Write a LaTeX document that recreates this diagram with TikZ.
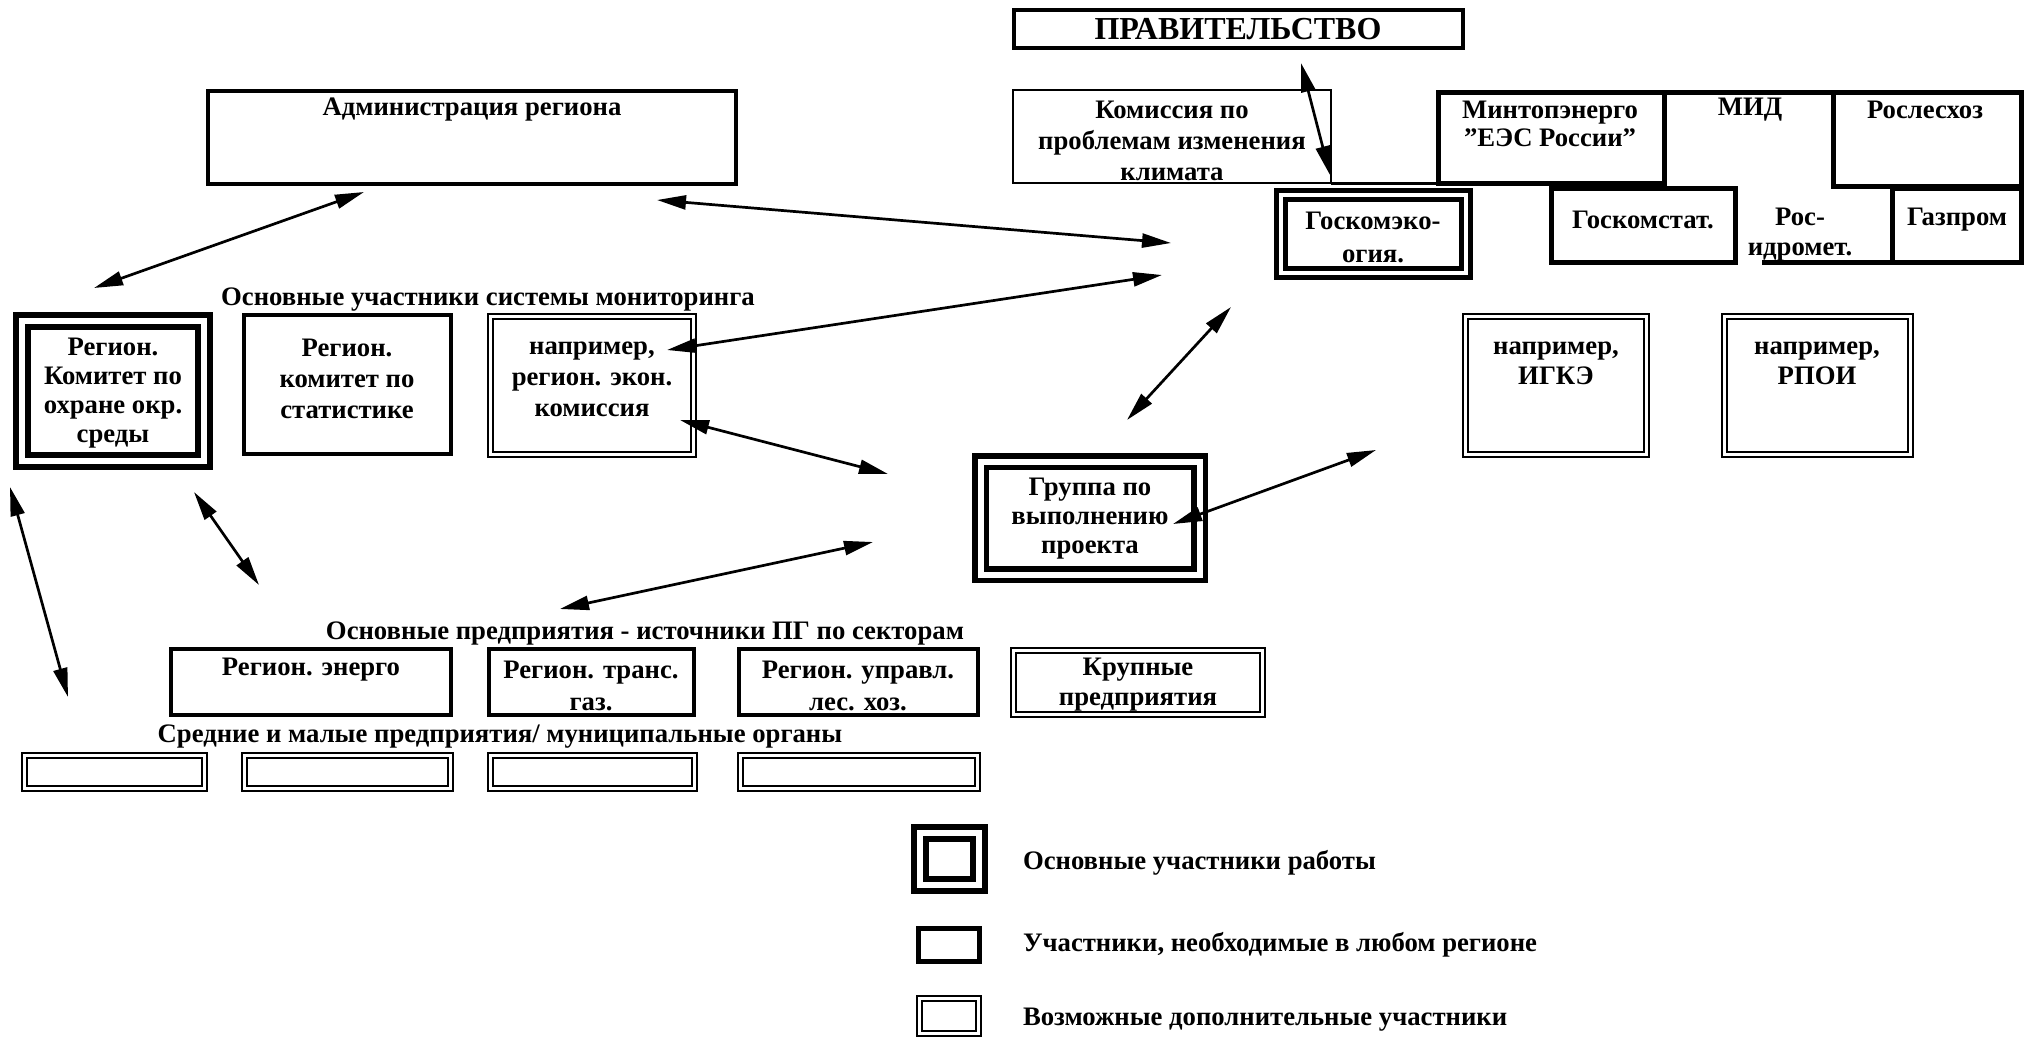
\documentclass[tikz,border=0pt]{standalone}
\usepackage{fontspec}
\setmainfont{Liberation Serif}
\usetikzlibrary{arrows.meta,fit}
\begin{document}
\begin{tikzpicture}[x=1pt,y=-1pt,
  every node/.style={inner sep=0pt, outer sep=0pt},
  txt/.style={font=\fontsize{26.7}{30}\selectfont\bfseries, align=center},
  bigtxt/.style={font=\fontsize{32}{36}\selectfont\bfseries, align=center},
  thickbox/.style={draw, line width=4.5pt, inner sep=0pt},
  thinbox/.style={draw, line width=2.5pt, inner sep=0pt},
  mainbox/.style={draw, line width=#1, double, double distance=6pt, inner sep=0pt},
  mainbox/.default=6pt,
  addbox/.style={draw, line width=2pt, double, double distance=3pt, inner sep=0pt},
  blank/.style={inner sep=0pt},
  link/.style={line width=2.7pt, {Triangle[length=29pt,width=14pt]}-{Triangle[length=29pt,width=14pt]}}
]
\useasboundingbox[fill=white] (0,0) rectangle (2034,1037);

% ---- top government part
\node[thickbox, fit={(1014,10) (1463,48)}] (prav) {};
\node[bigtxt] (prav-t) at (1238,29) {ПРАВИТЕЛЬСТВО};

\node[thinbox, fit={(1013,90) (1331,183)}] (kom) {};
\node[txt, font=\fontsize{26.7}{31}\selectfont\bfseries] (kom-t) at (1172,141) {Комиссия по\\проблемам изменения\\климата};

\node[draw, line width=5pt, fit={(1438,92) (1664,183)}] (mintop) {};
\node[txt, font=\fontsize{26.7}{28}\selectfont\bfseries] (mintop-t) at (1550,124) {Минтопэнерго\\"ЕЭС России"};
\node[blank, fit={(1664,92) (1833,186)}] (mid) {};
\node[txt] (mid-t) at (1750,110) {МИД};
\node[draw, line width=5pt, fit={(1833,92) (2021,186)}] (rosles) {};
\node[txt] (rosles-t) at (1925,110) {Рослесхоз};
\draw[line width=5pt] (mintop.north east) -- (rosles.north west);
\draw[line width=3pt] (kom.south east) -- (mintop.south west);

\node[draw, line width=5pt, fit={(1551,188) (1735,262)}] (gstat) {};
\node[txt] (gstat-t) at (1643,220) {Госкомстат.};
\node[draw, line width=5pt, fit={(1892,188) (2021,262)}] (gaz) {};
\node[txt] (gaz-t) at (1957,220) {Газпром};
\node[blank, fit={(1762,188) (1892,262)}] (rgm) {};
\node[txt] (rgm-t) at (1800,235) {Рос-\\идромет.};
\draw[line width=5pt] (rgm.south west) -- (gaz.south west);

\node[draw, line width=5pt, double, double distance=4pt, fit={(1281,195) (1466,273)}] (gke) {};
\node[txt, font=\fontsize{26.7}{33}\selectfont\bfseries] (gke-t) at (1373,237) {Госкомэко-\\огия.};

% ---- region administration
\node[thickbox, fit={(208,91) (736,184)}] (admin) {};
\node[txt] (admin-t) at (472,110) {Администрация региона};

% ---- monitoring participants
\node[txt] (mon-t) at (488,300) {Основные участники системы мониторинга};
\node[mainbox, fit={(22,321) (204,461)}] (regkom) {};
\node[txt, font=\fontsize{26.7}{29}\selectfont\bfseries] (regkom-t) at (113,393) {Регион.\\Комитет по\\охране окр.\\среды};
\node[thickbox, fit={(244,315) (451,454)}] (regstat) {};
\node[txt, font=\fontsize{26.7}{31}\selectfont\bfseries] (regstat-t) at (347,379) {Регион.\\комитет по\\статистике};
\node[addbox, fit={(490.5,316.5) (693.5,454.5)}] (ekon) {};
\node[txt, font=\fontsize{26.7}{31}\selectfont\bfseries] (ekon-t) at (592,379) {например,\\регион. экон.\\комиссия};

\node[addbox, fit={(1465.5,316.5) (1646.5,454.5)}] (igke) {};
\node[txt] (igke-t) at (1556,363) {например,\\ИГКЭ};
\node[addbox, fit={(1724.5,316.5) (1910.5,454.5)}] (rpoi) {};
\node[txt] (rpoi-t) at (1817,363) {например,\\РПОИ};

% ---- project group
\node[draw, line width=5.5pt, double, double distance=6pt, fit={(980.5,461.5) (1199.5,574.5)}] (group) {};
\node[txt, font=\fontsize{26.7}{29}\selectfont\bfseries] (group-t) at (1090,519) {Группа по\\выполнению\\проекта};

% ---- enterprises
\node[txt] (ent-t) at (645,633) {Основные предприятия - источники ПГ по секторам};
\node[thickbox, fit={(171,649) (451,715)}] (energo) {};
\node[txt] (energo-t) at (311,670) {Регион. энерго};
\node[thickbox, fit={(489,649) (694,715)}] (trans) {};
\node[txt, font=\fontsize{26.7}{32}\selectfont\bfseries] (trans-t) at (591,686) {Регион. транс.\\газ.};
\node[thickbox, fit={(739,649) (978,715)}] (les) {};
\node[txt, font=\fontsize{26.7}{32}\selectfont\bfseries] (les-t) at (858,686) {Регион. управл.\\лес. хоз.};
\node[addbox, fit={(1013.5,650.5) (1262.5,714.5)}] (krup) {};
\node[txt] (krup-t) at (1138,685) {Крупные\\предприятия};

\node[txt] (small-t) at (500,737) {Средние и малые предприятия/ муниципальные органы};
\node[addbox, fit={(24.5,755.5) (204.5,788.5)}] (s1) {};
\node[addbox, fit={(244.5,755.5) (450.5,788.5)}] (s2) {};
\node[addbox, fit={(490.5,755.5) (694.5,788.5)}] (s3) {};
\node[addbox, fit={(740.5,755.5) (977.5,788.5)}] (s4) {};

% ---- legend
\node[mainbox, fit={(920,833) (979,885)}] (leg1) {};
\node[txt, anchor=west] (leg1-t) at (1023,863) {Основные участники работы};
\node[draw, line width=5pt, fit={(918.5,928.5) (979.5,961.5)}] (leg2) {};
\node[txt, anchor=west] (leg2-t) at (1023,945) {Участники, необходимые в любом регионе};
\node[addbox, fit={(919.5,998.5) (978.5,1033.5)}] (leg3) {};
\node[txt, anchor=west] (leg3-t) at (1023,1020) {Возможные дополнительные участники};

% ---- connector ends
\coordinate (a1s) at (364,192);  \coordinate (a1e) at (94,288);
\coordinate (a2s) at (657,200);  \coordinate (a2e) at (1171,243);
\coordinate (a3s) at (667,350);  \coordinate (a3e) at (1162,275);
\coordinate (a4s) at (1231,307); \coordinate (a4e) at (1127,420);
\coordinate (a5s) at (1301,63);  \coordinate (a5e) at (1330,175);
\coordinate (a6s) at (680,420);  \coordinate (a6e) at (888,474);
\coordinate (a7s) at (1173,524); \coordinate (a7e) at (1376,450);
\coordinate (a8s) at (10,487);   \coordinate (a8e) at (68,697);
\coordinate (a9s) at (194,492);  \coordinate (a9e) at (259,585);
\coordinate (a10s) at (560,609); \coordinate (a10e) at (873,542);

\foreach \i in {1,...,10} {\draw[link] (a\i s) -- (a\i e);}
\end{tikzpicture}
\end{document}
